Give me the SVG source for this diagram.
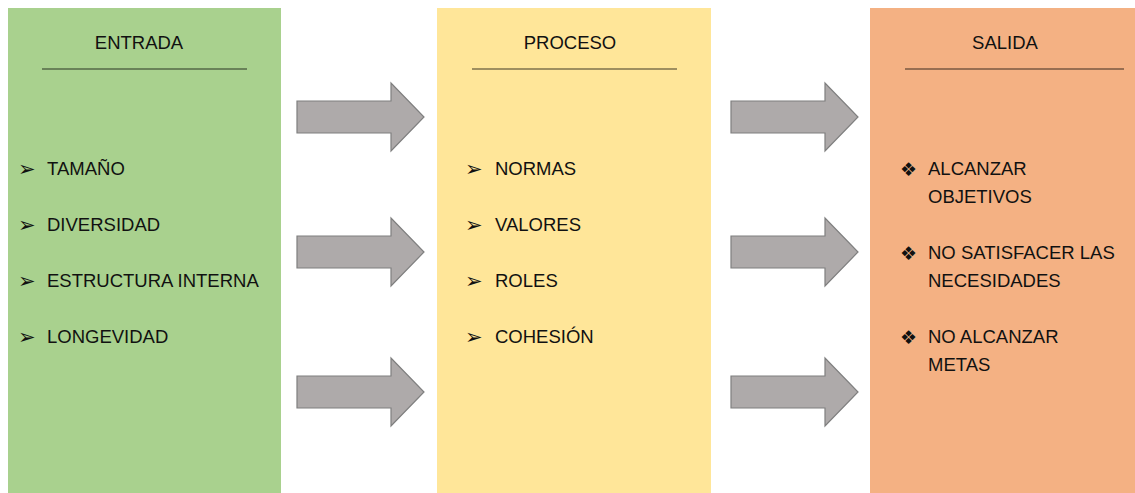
<svg xmlns="http://www.w3.org/2000/svg" width="1135" height="493" viewBox="0 0 1135 493">
<style>
.t{font-family:"Liberation Sans",Arial,sans-serif;font-size:18.5px;fill:#111}
.b{font-family:"DejaVu Sans",sans-serif;font-size:21px;fill:#111}
.d{font-family:"DejaVu Sans",sans-serif;font-size:19px;fill:#111}
.hl{stroke:#000;stroke-opacity:0.5;stroke-width:1.5}
.arr{fill:#AEAAAA;stroke:#7F7F7F;stroke-width:1.2}
</style>
<defs>
<path id="ar" d="M0,-16 H94 V-34 L127,0 L94,34 V16 H0 Z"/>
</defs>
<g id="entrada">
<rect x="8" y="8" width="273" height="485" fill="#A9D18E"/>
<text class="t" x="139" y="49" text-anchor="middle">ENTRADA</text>
<line class="hl" x1="42" y1="69" x2="247" y2="69"/>
<text class="b" x="18" y="176">➢</text><text class="t" x="47" y="175">TAMAÑO</text>
<text class="b" x="18" y="232">➢</text><text class="t" x="47" y="231">DIVERSIDAD</text>
<text class="b" x="18" y="288">➢</text><text class="t" x="47" y="287">ESTRUCTURA INTERNA</text>
<text class="b" x="18" y="344">➢</text><text class="t" x="47" y="343">LONGEVIDAD</text>
</g>
<g id="proceso">
<rect x="437" y="8" width="274" height="485" fill="#FFE699"/>
<text class="t" x="570" y="49" text-anchor="middle">PROCESO</text>
<line class="hl" x1="472" y1="69" x2="677" y2="69"/>
<text class="b" x="465" y="176">➢</text><text class="t" x="495" y="175">NORMAS</text>
<text class="b" x="465" y="232">➢</text><text class="t" x="495" y="231">VALORES</text>
<text class="b" x="465" y="288">➢</text><text class="t" x="495" y="287">ROLES</text>
<text class="b" x="465" y="344">➢</text><text class="t" x="495" y="343">COHESIÓN</text>
</g>
<g id="salida">
<rect x="870" y="8" width="265" height="485" fill="#F4B183"/>
<text class="t" x="1005" y="49" text-anchor="middle">SALIDA</text>
<line class="hl" x1="905" y1="69" x2="1124" y2="69"/>
<text class="d" x="900" y="176">❖</text><text class="t" x="928" y="175">ALCANZAR</text>
<text class="t" x="928" y="203">OBJETIVOS</text>
<text class="d" x="900" y="260">❖</text><text class="t" x="928" y="259">NO SATISFACER LAS</text>
<text class="t" x="928" y="287">NECESIDADES</text>
<text class="d" x="900" y="344">❖</text><text class="t" x="928" y="343">NO ALCANZAR</text>
<text class="t" x="928" y="371">METAS</text>
</g>
<g id="connectors">
<use href="#ar" class="arr" transform="translate(297,117)"/>
<use href="#ar" class="arr" transform="translate(297,252)"/>
<use href="#ar" class="arr" transform="translate(297,392)"/>
<use href="#ar" class="arr" transform="translate(731,117)"/>
<use href="#ar" class="arr" transform="translate(731,252)"/>
<use href="#ar" class="arr" transform="translate(731,392)"/>
</g>
</svg>
